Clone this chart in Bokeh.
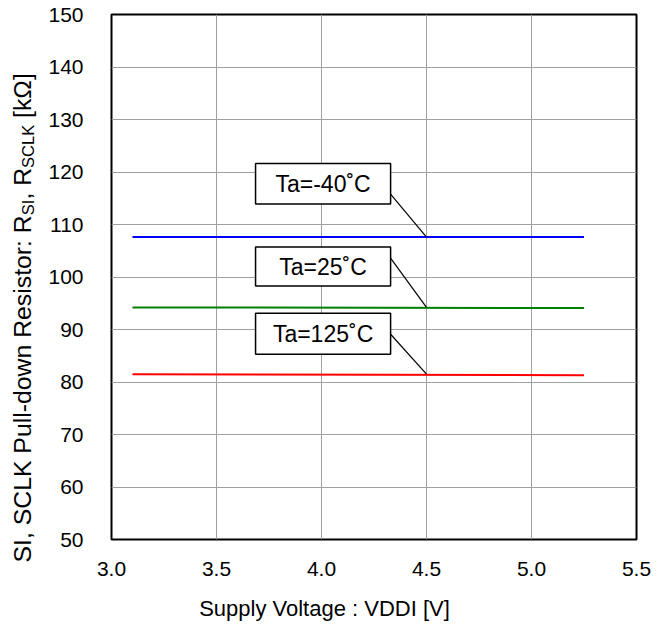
import math
from bokeh.plotting import figure
from bokeh.layouts import row, column
from bokeh.models import (FixedTicker, NumeralTickFormatter, Range1d)
from bokeh.core.properties import value
from bokeh.embed import file_html
from bokeh.resources import INLINE

# ---- data ----
voltage = [3.1, 5.25]
r_m40 = [107.6, 107.6]
r_25 = [94.2, 94.1]
r_125 = [81.5, 81.3]
series_colors = ["#0000ff", "#008000", "#ff0000"]
callout_text = ["Ta=-40\u02daC", "Ta=25\u02daC", "Ta=125\u02daC"]
callout_box_x = [3.686, 4.329]
callout_box_top = [121.6, 105.7, 93.1]
callout_box_bottom = [113.9, 98.3, 85.3]
callout_anchor_y = [115.8, 103.6, 89.1]
callout_point_x = 4.5
x_ticks = [3.0, 3.5, 4.0, 4.5, 5.0, 5.5]
y_ticks = [50, 60, 70, 80, 90, 100, 110, 120, 130, 140, 150]
x_title = "Supply Voltage : VDDI [V]"
y_title_pieces = ["SI, SCLK Pull-down Resistor: R", "SI", ", R", "SCLK", " [k\u03a9]"]
y_title_is_sub = [0, 1, 0, 1, 0]

FONT = "Liberation Sans"
YFIG_W = 45
MAIN_H = 589
TOTAL_W = 665
XFIG_H = 36

p = figure(frame_width=525, frame_height=525, output_backend="svg", toolbar_location=None,
           x_range=Range1d(3.0, 5.5), y_range=Range1d(50, 150),
           min_border_left=111 - YFIG_W, min_border_top=14, min_border_right=29,
           min_border_bottom=MAIN_H - 14 - 525)
p.background_fill_color = "white"
p.border_fill_color = "white"
p.outline_line_color = "black"
p.outline_line_width = 2

for ax in (p.xaxis[0], p.yaxis[0]):
    ax.axis_line_color = None
    ax.major_tick_line_color = None
    ax.minor_tick_line_color = None
    ax.major_tick_in = 0
    ax.major_tick_out = 0
    ax.minor_tick_in = 0
    ax.minor_tick_out = 0
    ax.major_label_text_font = FONT
    ax.major_label_text_font_size = "21px"
    ax.major_label_text_color = "black"

p.xaxis.ticker = FixedTicker(ticks=x_ticks)
p.yaxis.ticker = FixedTicker(ticks=y_ticks)
p.xaxis.formatter = NumeralTickFormatter(format="0.0")
p.yaxis.formatter = NumeralTickFormatter(format="0")
p.xaxis.major_label_standoff = 22
p.yaxis.major_label_standoff = 28

p.xgrid.ticker = FixedTicker(ticks=x_ticks)
p.ygrid.ticker = FixedTicker(ticks=y_ticks)
for g in (p.xgrid[0], p.ygrid[0]):
    g.grid_line_color = "#a0a0a0"
    g.grid_line_width = 1

# series lines
for ys, c in zip([r_m40, r_25, r_125], series_colors):
    p.line(voltage, ys, line_color=c, line_width=2)

# callouts
series_y = [r_m40, r_25, r_125]
for i, t in enumerate(callout_text):
    p.segment(x0=[callout_box_x[1]], y0=[callout_anchor_y[i]],
              x1=[callout_point_x], y1=[series_y[i][0]], line_color="black", line_width=1.2)
    p.quad(left=[callout_box_x[0]], right=[callout_box_x[1]], top=[callout_box_top[i]],
           bottom=[callout_box_bottom[i]], fill_color="white", line_color="black", line_width=1.5)
    p.text(x=[(callout_box_x[0] + callout_box_x[1]) / 2],
           y=[(callout_box_top[i] + callout_box_bottom[i]) / 2], text=[t],
           text_align="center", text_baseline="middle", text_font=value(FONT),
           text_font_size="23px", text_color="black")

# ---- y axis title panel (pixel coordinates, with subscripts) ----
yfig = figure(frame_width=YFIG_W, frame_height=MAIN_H, output_backend="svg", toolbar_location=None,
              x_range=Range1d(0, YFIG_W), y_range=Range1d(0, MAIN_H),
              x_axis_type=None, y_axis_type=None, min_border=0)
yfig.outline_line_color = None
yfig.grid.visible = False
yfig.background_fill_color = "white"
yfig.border_fill_color = "white"

W = {'S': 667, 'I': 278, ',': 278, ' ': 278, 'C': 722, 'L': 556, 'K': 667, 'P': 667, 'u': 556,
     'l': 222, '-': 333, 'd': 556, 'o': 556, 'w': 722, 'n': 556, 'R': 722, 'e': 556, 's': 500,
     'i': 222, 't': 278, 'r': 333, ':': 278, '[': 278, 'k': 500, '\u03a9': 768, ']': 278}

def tw(s, size):
    return sum(W.get(ch, 556) for ch in s) / 1000.0 * size

MAIN = 24.8
SUB = 16.5
base_x = 22
cur = 548  # image y of the start (bottom) of the title
for txt, sub in zip(y_title_pieces, y_title_is_sub):
    size = SUB if sub else MAIN
    stripped = txt.lstrip(" ")
    cur -= tw(txt[:len(txt) - len(stripped)], size)  # leading space as a gap
    yfig.text(x=[base_x + (5 if sub else 0)], y=[MAIN_H - cur], text=[stripped], angle=math.pi / 2,
              text_font=value(FONT), text_font_size=f"{size}px", text_color="black",
              text_align="left", text_baseline="alphabetic")
    cur -= tw(stripped, size)

# ---- x axis title panel ----
xfig = figure(frame_width=TOTAL_W, frame_height=XFIG_H, output_backend="svg", toolbar_location=None,
              x_range=Range1d(0, TOTAL_W), y_range=Range1d(0, XFIG_H),
              x_axis_type=None, y_axis_type=None, min_border=0)
xfig.outline_line_color = None
xfig.grid.visible = False
xfig.background_fill_color = "white"
xfig.border_fill_color = "white"
xfig.text(x=[324], y=[XFIG_H - 19], text=[x_title], text_align="center", text_baseline="middle",
          text_font=value(FONT), text_font_size="22px", text_color="black")

layout = column(row(yfig, p, spacing=0), xfig, spacing=0)
open("out.html", "w").write(file_html(layout, INLINE))
